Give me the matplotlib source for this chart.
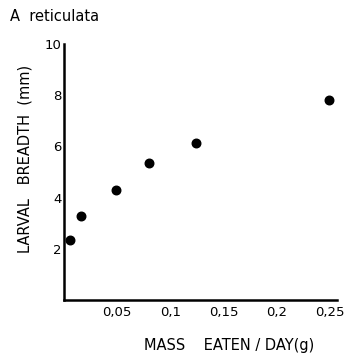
import matplotlib.pyplot as plt

# ---------------- DATA ----------------
mass_eaten = [0.006, 0.016, 0.049, 0.080, 0.124, 0.249]   # g / day
larval_breadth = [2.36, 3.28, 4.30, 5.35, 6.13, 7.83]      # mm

x_ticks = [0.05, 0.1, 0.15, 0.2, 0.25]
x_tick_labels = ["0,05", "0,1", "0,15", "0,2", "0,25"]
y_ticks = [2, 4, 6, 8, 10]
y_tick_labels = ["2", "4", "6", "8", "10"]

# ---------------- PLOT ----------------
fig = plt.figure(figsize=(3.5, 3.61), dpi=100)
ax = fig.add_axes([0.183, 0.169, 0.78, 0.709])

ax.scatter(mass_eaten, larval_breadth, s=38, color="black", zorder=3)

ax.set_xlim(0, 0.257)
ax.set_ylim(0, 10)
ax.set_xticks(x_ticks)
ax.set_xticklabels(x_tick_labels, fontsize=9.5)
ax.set_yticks(y_ticks)
ax.set_yticklabels(y_tick_labels, fontsize=9.5)
ax.tick_params(axis="x", length=0, pad=4)
ax.tick_params(axis="y", length=0, pad=2)

for side in ("top", "right"):
    ax.spines[side].set_visible(False)
for side in ("left", "bottom"):
    ax.spines[side].set_linewidth(1.8)

ax.set_ylabel("LARVAL   BREADTH  (mm)", fontsize=10.5)
ax.yaxis.set_label_coords(-0.117, 0.55)
ax.set_xlabel("MASS    EATEN / DAY(g)", fontsize=10.5)
ax.xaxis.set_label_coords(0.605, -0.15)

fig.text(0.03, 0.955, "A  reticulata", fontsize=10.5, ha="left", va="center")

fig.savefig("out.png", dpi=100)
plt.close(fig)
